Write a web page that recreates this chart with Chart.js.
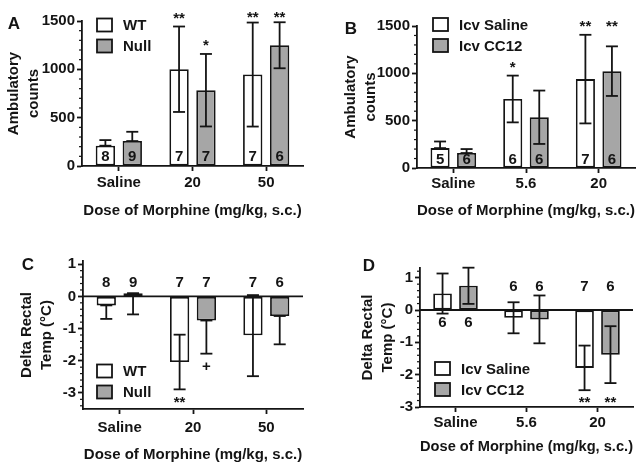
<!DOCTYPE html>
<html>
<head>
<meta charset="utf-8">
<title>Morphine dose figure</title>
<script src="https://cdn.jsdelivr.net/npm/chart.js@4.4.1/dist/chart.umd.min.js"></script>
<style>
  html, body { margin: 0; padding: 0; background: #fff; }
  #figure { position: relative; width: 641px; height: 471px; overflow: hidden; }
  #figure canvas { position: absolute; }
</style>
</head>
<body>
<div id="figure">
  <canvas id="panelA" width="320" height="235" style="left:0px;top:0px"></canvas>
  <canvas id="panelB" width="320" height="235" style="left:320px;top:0px"></canvas>
  <canvas id="panelC" width="320" height="235" style="left:0px;top:235px"></canvas>
  <canvas id="panelD" width="320" height="235" style="left:320px;top:235px"></canvas>
</div>
<script>
var FONT = "'Liberation Sans', Arial, Helvetica, sans-serif";
var INK = '#141414';
var GREY = '#a6a6a6';
var SIZE = 15;
var STROKE = 1.8;

// categories
var dosesAC = ['Saline', '20', '50'];
var dosesBD = ['Saline', '5.6', '20'];
var xTitle = 'Dose of Morphine (mg/kg, s.c.)';

// A - ambulatory counts, WT vs Null
var wtCountsA = [210, 1001, 946];
var wtUpA = [58, 442, 538];
var wtDownA = [0, 442, 538];
var wtNA = ['8', '7', '7'];
var wtSigA = ['', '**', '**'];
var nullCountsA = [258, 784, 1249];
var nullUpA = [96, 375, 238];
var nullDownA = [0, 375, 238];
var nullNA = ['9', '7', '6'];
var nullSigA = ['', '*', '**'];

// B - ambulatory counts, icv saline vs icv CC12
var salCountsB = [210, 729, 939];
var salUpB = [70, 247, 468];
var salDownB = [0, 247, 468];
var salNB = ['5', '6', '7'];
var salSigB = ['', '*', '**'];
var ccCountsB = [158, 536, 1023];
var ccUpB = [42, 282, 262];
var ccDownB = [0, 282, 262];
var ccNB = ['6', '6', '6'];
var ccSigB = ['', '', '**'];

// C - delta rectal temp, WT vs Null
var wtTempC = [-0.28, -2.04, -1.21];
var wtUpC = [0, 0.85, 1.25];
var wtDownC = [0.42, 0.85, 1.27];
var wtNC = ['8', '7', '7'];
var wtSigC = ['', '**', ''];
var nullTempC = [0.1, -0.75, -0.61];
var nullUpC = [0, 0, 0];
var nullDownC = [0.66, 1.03, 0.88];
var nullNC = ['9', '7', '6'];
var nullSigC = ['', '+', ''];

// D - delta rectal temp, icv saline vs icv CC12
var salTempD = [0.51, -0.24, -1.79];
var salErrD = [0.62, 0.48, 0.69];
var salND = ['6', '6', '7'];
var salSigD = ['', '', '**'];
var ccTempD = [0.75, -0.29, -1.38];
var ccErrD = [0.56, 0.74, 0.88];
var ccND = ['6', '6', '6'];
var ccSigD = ['', '', '**'];

function bold(size) {
    return 'bold ' + size + 'px ' + FONT;
}

/*
  panelDecor: everything GraphPad draws that Chart.js does not -
  minor ticks, zero line, error bars, n labels, stars, legend, letter
*/
var panelDecor = {
    id: 'panelDecor',
    afterDatasetsDraw: function(chart, args, opts) {
        var ctx = chart.ctx, area = chart.chartArea, y = chart.scales.y;
        var zero = y.getPixelForValue(0);
        var datasets = chart.data.datasets;

        ctx.save();
        ctx.strokeStyle = INK;
        ctx.fillStyle = INK;

        function line(x1, y1, x2, y2) {
            ctx.beginPath();
            ctx.moveTo(x1, y1);
            ctx.lineTo(x2, y2);
            ctx.stroke();
        }

        // minor ticks
        var k0 = Math.ceil(y.min / opts.minorStep - 1e-6);
        var k1 = Math.floor(y.max / opts.minorStep + 1e-6);
        ctx.lineWidth = 1.2;
        for (var k = k0; k <= k1; k++) {
            var v = k * opts.minorStep;
            var r = v / opts.majorStep;
            if (Math.abs(r - Math.round(r)) < 1e-6) continue;
            var py = y.getPixelForValue(v);
            line(area.left - 3, py, area.left, py);
        }
        ctx.lineWidth = STROKE;

        if (opts.zeroLine) line(area.left, zero, area.right, zero);

        // error bars
        datasets.forEach(function(ds, i) {
            chart.getDatasetMeta(i).data.forEach(function(bar, j) {
                var v = ds.data[j];
                var top = y.getPixelForValue(v + ds.errUp[j]);
                var bot = y.getPixelForValue(v - ds.errDown[j]);
                line(bar.x, top, bar.x, bot);
                line(bar.x - 6, top, bar.x + 6, top);
                line(bar.x - 6, bot, bar.x + 6, bot);
            });
        });

        ctx.font = bold(SIZE);
        ctx.textAlign = 'center';
        ctx.textBaseline = 'middle';

        // group sizes
        datasets.forEach(function(ds, i) {
            chart.getDatasetMeta(i).data.forEach(function(bar, j) {
                ctx.fillText(ds.n[j], bar.x, zero + opts.nOffset[j]);
            });
        });

        // significance marks
        chart.data.labels.forEach(function(lbl, j) {
            var ends = datasets.map(function(ds) {
                var v = ds.data[j];
                return opts.sigSide === 'above' ?
                    y.getPixelForValue(v + ds.errUp[j]) :
                    y.getPixelForValue(v - ds.errDown[j]);
            });
            var marked = ends.filter(function(e, i) { return datasets[i].sig[j]; });
            var edge = opts.sigSide === 'above' ? Math.min.apply(null, marked) : Math.max.apply(null, marked);
            datasets.forEach(function(ds, i) {
                if (!ds.sig[j]) return;
                var e = opts.sigAlign ? edge : ends[i];
                var bar = chart.getDatasetMeta(i).data[j];
                var py = opts.sigSide === 'above' ? Math.max(e - 8, area.top - 3) : e + 13;
                ctx.fillText(ds.sig[j], bar.x, py);
            });
        });

        // legend
        ctx.textAlign = 'left';
        datasets.forEach(function(ds, i) {
            var cy = opts.legend.y + i * 21;
            ctx.fillStyle = ds.backgroundColor;
            ctx.fillRect(opts.legend.x, cy - 6.5, 15, 13);
            ctx.strokeRect(opts.legend.x, cy - 6.5, 15, 13);
            ctx.fillStyle = INK;
            ctx.fillText(ds.label, opts.legend.x + 26, cy + 1);
        });

        // panel letter
        ctx.font = bold(17);
        ctx.textAlign = 'center';
        ctx.fillText(opts.letter.text, opts.letter.x, opts.letter.y);
        ctx.restore();
    }
};

function series(label, fill, values, up, down, n, sig) {
    return {
        label: label,
        data: values,
        errUp: up,
        errDown: down,
        n: n,
        sig: sig,
        backgroundColor: fill,
        borderColor: INK,
        borderWidth: STROKE,
        borderSkipped: false
    };
}

function makePanel(id, labels, datasets, geo, yAxis, decor) {
    var font = { family: FONT, size: SIZE, weight: 'bold' };
    return new Chart(document.getElementById(id), {
        type: 'bar',
        data: { labels: labels, datasets: datasets },
        plugins: [panelDecor],
        options: {
            responsive: false,
            animation: false,
            events: [],
            layout: { padding: { top: geo.top, right: geo.right, left: 0, bottom: 0 } },
            datasets: { bar: { barPercentage: 0.72, categoryPercentage: 0.73 } },
            plugins: {
                legend: { display: false },
                tooltip: { enabled: false },
                panelDecor: decor
            },
            scales: {
                x: {
                    grid: { offset: false, drawOnChartArea: false, tickLength: 5, tickColor: INK, tickWidth: STROKE },
                    border: { color: INK, width: STROKE },
                    ticks: { color: INK, font: font, padding: geo.xTickPad, maxRotation: 0 },
                    title: { display: true, text: xTitle, color: INK, font: font,
                             padding: { top: 0, bottom: geo.xTitlePad } },
                    afterFit: function(s) { s.height = geo.xHeight; }
                },
                y: {
                    min: yAxis.min,
                    max: yAxis.max,
                    grid: { drawOnChartArea: false, tickLength: 5, tickColor: INK, tickWidth: STROKE },
                    border: { color: INK, width: STROKE },
                    ticks: { stepSize: decor.majorStep, includeBounds: false, color: INK, padding: 2, font: font,
                             callback: function(v) { return String(v); } },
                    title: { display: true, text: yAxis.title, color: INK,
                             font: { family: FONT, size: SIZE, weight: 'bold', lineHeight: 1.35 },
                             padding: { top: geo.yTitlePad, bottom: 0 } },
                    afterFit: function(s) { s.width = geo.yWidth; }
                }
            }
        }
    });
}

makePanel('panelA', dosesAC,
    [series('WT', '#ffffff', wtCountsA, wtUpA, wtDownA, wtNA, wtSigA),
     series('Null', GREY, nullCountsA, nullUpA, nullDownA, nullNA, nullSigA)],
    { top: 21, right: 17, yWidth: 82, xHeight: 69, xTickPad: 3, xTitlePad: 15, yTitlePad: 3.9 },
    { min: 0, max: 1500, title: ['Ambulatory', 'counts'] },
    { majorStep: 500, minorStep: 100, zeroLine: false, nOffset: [-9, -9, -9],
      sigSide: 'above', sigAlign: false,
      legend: { x: 97, y: 25 }, letter: { text: 'A', x: 14, y: 24 } });

makePanel('panelB', dosesBD,
    [series('Icv Saline', '#ffffff', salCountsB, salUpB, salDownB, salNB, salSigB),
     series('Icv CC12', GREY, ccCountsB, ccUpB, ccDownB, ccNB, ccSigB)],
    { top: 26, right: 5, yWidth: 97, xHeight: 67, xTickPad: 2, xTitlePad: 15, yTitlePad: 20.9 },
    { min: 0, max: 1500, title: ['Ambulatory', 'counts'] },
    { majorStep: 500, minorStep: 100, zeroLine: false, nOffset: [-8, -8, -8],
      sigSide: 'above', sigAlign: true,
      legend: { x: 113, y: 24.5 }, letter: { text: 'B', x: 31, y: 29 } });

makePanel('panelC', dosesAC,
    [series('WT', '#ffffff', wtTempC, wtUpC, wtDownC, wtNC, wtSigC),
     series('Null', GREY, nullTempC, nullUpC, nullDownC, nullNC, nullSigC)],
    { top: 26, right: 17, yWidth: 83, xHeight: 61, xTickPad: 4.5, xTitlePad: 6, yTitlePad: 16.9 },
    { min: -3.5, max: 1.1, title: ['Delta Rectal', 'Temp (°C)'] },
    { majorStep: 1, minorStep: 0.2, zeroLine: true, nOffset: [-13.5, -13.5, -13.5],
      sigSide: 'below', sigAlign: false,
      legend: { x: 97, y: 136 }, letter: { text: 'C', x: 28, y: 30 } });

makePanel('panelD', dosesBD,
    [series('Icv Saline', '#ffffff', salTempD, salErrD, salErrD, salND, salSigD),
     series('Icv CC12', GREY, ccTempD, ccErrD, ccErrD, ccND, ccSigD)],
    { top: 33, right: 7, yWidth: 100, xHeight: 63, xTickPad: 2, xTitlePad: 14.3, yTitlePad: 37.9 },
    { min: -3, max: 1.3, title: ['Delta Rectal', 'Temp (°C)'] },
    { majorStep: 1, minorStep: 0.2, zeroLine: true, nOffset: [13, -23, -23],
      sigSide: 'below', sigAlign: true,
      legend: { x: 115, y: 133.5 }, letter: { text: 'D', x: 49, y: 31 } });
</script>
</body>
</html>
